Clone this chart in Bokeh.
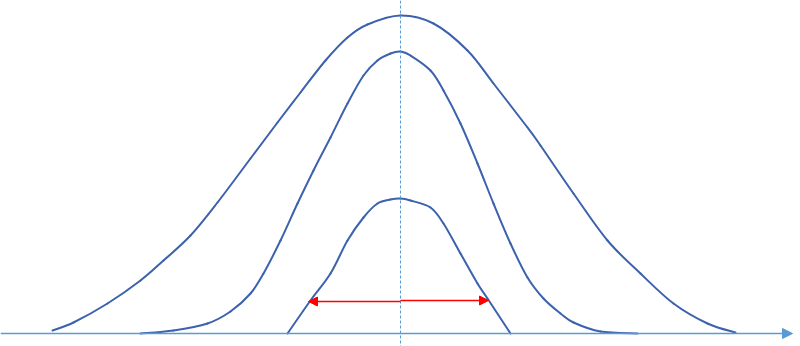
import numpy as np
from bokeh.plotting import figure
from bokeh.models import Range1d, Arrow, NormalHead, Span
from bokeh.embed import file_html
from bokeh.resources import INLINE

# Outer (widest) curve
outer_x = [52, 73, 107, 140, 163, 190, 217, 250, 277, 300, 325, 347, 367, 400, 433, 467, 493, 527, 540, 573, 607, 640, 673, 707, 735]
outer_y = [3, 11, 30, 53, 73, 98, 131, 175, 211, 241, 273, 296, 309, 318, 310, 283, 250, 206, 188, 140, 93, 60, 30, 10, 1]

# Middle curve
mid_x = [140, 173, 207, 230, 250, 263, 280, 297, 313, 330, 347, 363, 377, 390, 400, 410, 430, 443, 460, 477, 493, 510, 527, 543, 560, 573, 600, 637]
mid_y = [0, 3, 10, 22, 40, 60, 93, 130, 163, 196, 230, 258, 273, 280, 282, 278, 263, 243, 210, 170, 130, 90, 56, 35, 20, 11, 2, 0]

# Inner (flat-topped) curve
inner_x = [287, 310, 330, 347, 363, 377, 390, 400, 410, 430, 443, 460, 477, 487, 510]
inner_y = [0, 33, 60, 93, 116, 130, 134, 135, 133, 126, 110, 80, 50, 35, 0]

center_x = 400
width_left, width_right, width_level = 308, 488, 32
axis_end = 792

curve_color = "#3d62ad"
axis_color = "#5b9bd5"

p = figure(width=800, height=346, output_backend="svg", toolbar_location=None,
           x_range=Range1d(0, 800), y_range=Range1d(-13, 333),
           min_border=0, outline_line_color=None)
p.axis.visible = False
p.grid.visible = False
p.background_fill_color = "white"
p.border_fill_color = "white"

# dashed center line
p.add_layout(Span(location=center_x, dimension="height", line_color=axis_color,
                  line_dash="3 2", line_width=1))

# x axis with arrow
p.add_layout(Arrow(end=NormalHead(size=10, fill_color=axis_color, line_color=axis_color),
                   x_start=0, y_start=0, x_end=axis_end, y_end=0,
                   line_color=axis_color, line_width=1.5))


def smooth_segments(xs, ys):
    """Bezier control points so the line passes smoothly through the read points."""
    x = np.asarray(xs, float)
    y = np.asarray(ys, float)
    xp = np.concatenate([[x[0]], x, [x[-1]]])
    yp = np.concatenate([[y[0]], y, [y[-1]]])
    n = len(x) - 1
    x0, y0 = x[:-1], y[:-1]
    x1, y1 = x[1:], y[1:]
    cx0 = x0 + (xp[2:n + 2] - xp[0:n]) / 6.0
    cy0 = y0 + (yp[2:n + 2] - yp[0:n]) / 6.0
    cx1 = x1 - (xp[3:n + 3] - xp[1:n + 1]) / 6.0
    cy1 = y1 - (yp[3:n + 3] - yp[1:n + 1]) / 6.0
    return dict(x0=x0, y0=y0, x1=x1, y1=y1, cx0=cx0, cy0=cy0, cx1=cx1, cy1=cy1)


for xs, ys in [(outer_x, outer_y), (mid_x, mid_y), (inner_x, inner_y)]:
    seg = smooth_segments(xs, ys)
    p.bezier(x0=seg["x0"], y0=seg["y0"], x1=seg["x1"], y1=seg["y1"],
             cx0=seg["cx0"], cy0=seg["cy0"], cx1=seg["cx1"], cy1=seg["cy1"],
             line_color=curve_color, line_width=2, line_cap="round")

# red double arrow (two halves from the center)
p.add_layout(Arrow(end=NormalHead(size=9, fill_color="red", line_color="red"),
                   x_start=center_x, y_start=width_level, x_end=width_left, y_end=width_level,
                   line_color="red", line_width=1.5))
p.add_layout(Arrow(end=NormalHead(size=9, fill_color="red", line_color="red"),
                   x_start=center_x, y_start=width_level + 1, x_end=width_right, y_end=width_level + 1,
                   line_color="red", line_width=1.5))

open("out.html", "w").write(file_html(p, INLINE))
